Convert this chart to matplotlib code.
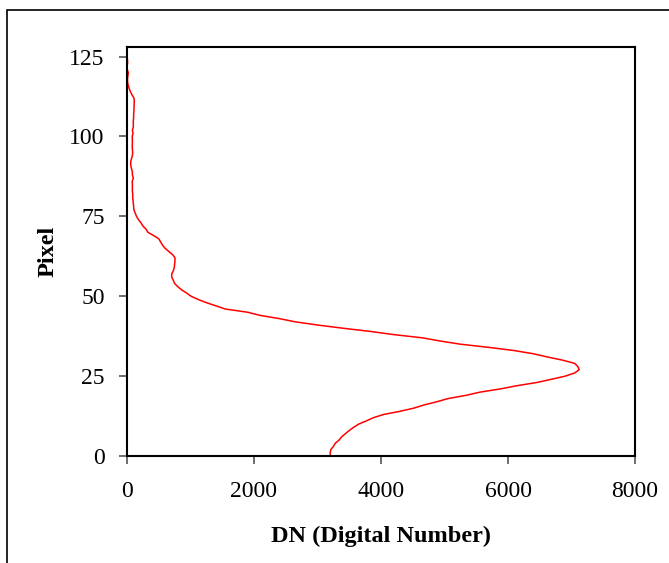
import matplotlib.pyplot as plt
from matplotlib.patches import Rectangle

# Perfil de DN ao longo da coluna de pixels
pixel = list(range(128))
dn = [3200, 3200, 3210, 3250, 3280, 3340, 3380, 3440, 3500, 3570,
      3650, 3770, 3880, 4040, 4300, 4520, 4680, 4880, 5060, 5340,
      5560, 5880, 6140, 6450, 6680, 6900, 7050, 7120, 7100, 7050,
      6860, 6620, 6400, 6100, 5700, 5250, 4930, 4650, 4200, 3830,
      3400, 3000, 2650, 2400, 2100, 1900, 1550, 1400, 1250, 1120,
      1010, 940, 860, 800, 750, 730, 705, 705, 730, 745,
      750, 755, 756, 720, 660, 600, 560, 530, 500, 420,
      330, 300, 250, 220, 180, 150, 130, 110, 105, 100,
      95, 90, 90, 85, 85, 85, 83, 100, 85, 85,
      70, 60, 58, 70, 85, 90, 85, 83, 85, 85,
      83, 95, 85, 100, 100, 100, 105, 105, 110, 110,
      112, 115, 110, 80, 55, 35, 20, 10, 8, 15,
      20, 5, 0, 10, 8, 0, 0, 0]

x_ticks = [0, 2000, 4000, 6000, 8000]
y_ticks = [0, 25, 50, 75, 100, 125]

plt.rcParams['font.family'] = ['Liberation Serif', 'DejaVu Serif']

fig = plt.figure(figsize=(6.69, 5.63), dpi=100)
ax = fig.add_axes([0.1898, 0.19, 0.7594, 0.7265])

ax.plot(dn, pixel, color='#ff0000', linewidth=1.1)

ax.set_xlim(0, 8000)
ax.set_ylim(0, 128)
ax.set_xticks(x_ticks)
ax.set_yticks(y_ticks)

ax.tick_params(axis='both', direction='out', length=6, width=1.2,
               color='#555555', labelsize=17)
ax.tick_params(axis='x', pad=12)
ax.tick_params(axis='y', pad=10)
for s in ax.spines.values():
    s.set_linewidth(1.5)
    s.set_color('black')

ax.set_xlabel('DN (Digital Number)', fontsize=17.5, fontweight='bold', labelpad=17)
ax.set_ylabel('Pixel', fontsize=17.5, fontweight='bold', labelpad=8)

# Moldura da área do gráfico
fig.patches.append(Rectangle((7 / 669, -0.2), 1.2, 0.2 + 1 - 10 / 563,
                             transform=fig.transFigure, fill=False,
                             edgecolor='black', linewidth=1.2))

fig.savefig('out.png', dpi=100)
